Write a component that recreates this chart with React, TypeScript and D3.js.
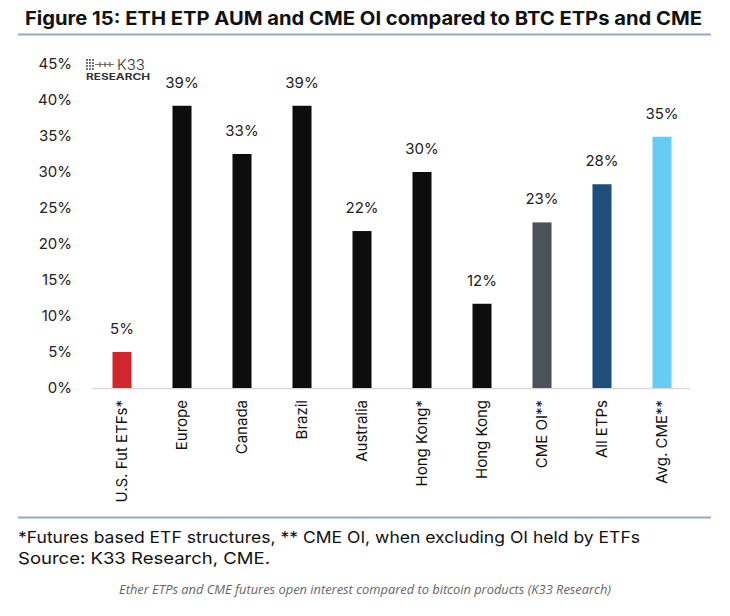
import React from "react";
import * as d3 from "d3";

const categories = ["U.S. Fut ETFs*", "Europe", "Canada", "Brazil", "Australia", "Hong Kong*", "Hong Kong", "CME OI**", "All ETPs", "Avg. CME**"];
const values = [5.0, 39.2, 32.5, 39.2, 21.8, 30.0, 11.7, 23.0, 28.3, 34.9];
const barColors = ["#d1262d", "#0d0d0d", "#0d0d0d", "#0d0d0d", "#0d0d0d", "#0d0d0d", "#0d0d0d", "#4c5258", "#1f4e7b", "#66ccf3"];
const yTicks = [0, 5, 10, 15, 20, 25, 30, 35, 40, 45];

const W = 730;
const H = 616;
const FONT = "Inter, 'Noto Sans', sans-serif";

export default function App() {
  const x = d3.scaleBand<string>().domain(categories).range([92, 692]).paddingInner(0.683).paddingOuter(0.3415);
  const y = d3.scaleLinear().domain([0, 45]).range([388, 64]);

  const dotsX = [87, 90, 93];
  const dotsY = [60, 63, 66, 69];

  return (
    <svg width={W} height={H} style={{ position: "absolute", left: 0, top: 0, background: "#fff" }} fontFamily={FONT}>
      <rect x={0} y={0} width={W} height={H} fill="#fff" />
      <text x={25} y={25} fontSize={19} fontWeight={700} fill="#111" textLength={677} lengthAdjust="spacingAndGlyphs">
        Figure 15: ETH ETP AUM and CME OI compared to BTC ETPs and CME
      </text>
      <line x1={18} x2={711} y1={34.5} y2={34.5} stroke="#98a9c2" strokeWidth={2} />

      {/* logo */}
      <g fill="#333">
        {dotsX.map((dx) => dotsY.map((dy) => <circle key={`${dx}-${dy}`} cx={dx} cy={dy} r={0.9} />))}
        <line x1={95} x2={114} y1={64.5} y2={64.5} stroke="#555" strokeWidth={0.8} />
        {[100, 105, 110].map((tx) => (
          <line key={tx} x1={tx} x2={tx} y1={62} y2={67} stroke="#444" strokeWidth={1} />
        ))}
        <text x={117} y={70} fontSize={15} fontWeight={300} fill="#333">K33</text>
        <text x={86} y={80} fontSize={8.5} fontWeight={700} fill="#333" textLength={64} lengthAdjust="spacingAndGlyphs">RESEARCH</text>
      </g>

      {/* y ticks */}
      {yTicks.map((t) => (
        <text key={t} x={72} y={y(t)} dy="0.35em" textAnchor="end" fontSize={15} fill="#222">
          {`${t}%`}
        </text>
      ))}

      {/* axis line */}
      <line x1={92} x2={690} y1={388.5} y2={388.5} stroke="#d9d9d9" strokeWidth={1.5} />

      {/* bars */}
      {categories.map((c, i) => (
        <g key={c}>
          <rect x={x(c)} y={y(values[i])} width={x.bandwidth()} height={y(0) - y(values[i])} fill={barColors[i]} />
          <text x={(x(c) as number) + x.bandwidth() / 2} y={y(values[i]) - 18} textAnchor="middle" fontSize={15} fill="#222">
            {`${Math.round(values[i])}%`}
          </text>
          <text
            transform={`translate(${(x(c) as number) + x.bandwidth() / 2},400) rotate(-90)`}
            dy="0.35em"
            textAnchor="end"
            fontSize={15}
            fill="#111"
          >
            {c}
          </text>
        </g>
      ))}

      <line x1={18} x2={711} y1={517.5} y2={517.5} stroke="#98a9c2" strokeWidth={2} />
      <text x={18} y={543} fontSize={16.5} fill="#111" textLength={622} lengthAdjust="spacingAndGlyphs">
        *Futures based ETF structures, ** CME OI, when excluding OI held by ETFs
      </text>
      <text x={18} y={564} fontSize={16.5} fill="#111" textLength={252} lengthAdjust="spacingAndGlyphs">
        Source: K33 Research, CME.
      </text>
      <text x={365} y={594} textAnchor="middle" fontSize={12} fontStyle="italic" fill="#666" fontFamily="'Open Sans', sans-serif" textLength={492} lengthAdjust="spacingAndGlyphs">
        Ether ETPs and CME futures open interest compared to bitcoin products (K33 Research)
      </text>
    </svg>
  );
}
